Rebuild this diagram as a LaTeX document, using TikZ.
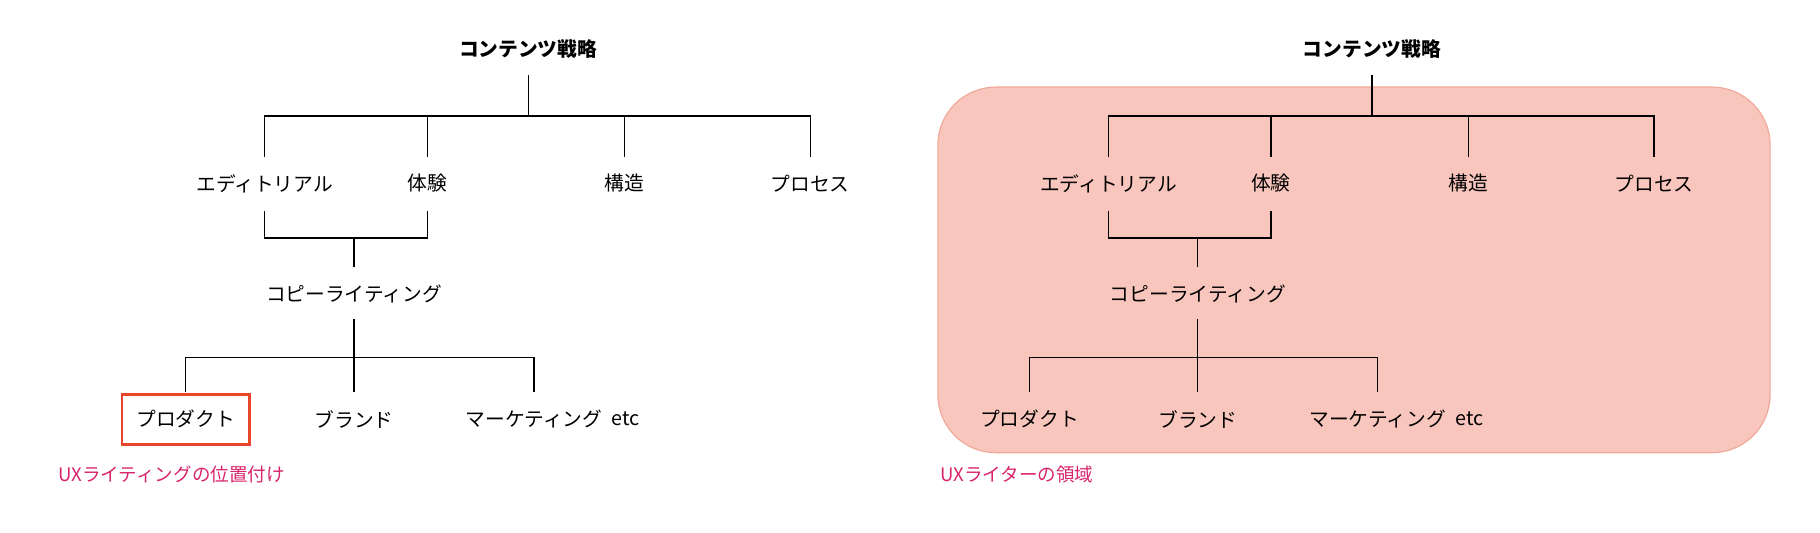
\documentclass[tikz,border=0pt]{standalone}
\usepackage{fontspec}
\setmainfont{Noto Sans CJK JP}
\begin{document}
\begin{tikzpicture}[x=1pt,y=-1pt,
  lbl/.style={font=\fontsize{17}{20}\selectfont,inner sep=1pt},
  ttl/.style={font=\fontsize{17}{20}\selectfont\bfseries,inner sep=1pt},
  note/.style={font=\fontsize{16}{19}\selectfont,text=notec,anchor=west,inner sep=0pt},
  ln/.style={line width=1pt,black}]
\definecolor{notec}{HTML}{D8246C}
\definecolor{boxc}{HTML}{E8452C}
\definecolor{areaf}{HTML}{F9C6BD}
\definecolor{aread}{HTML}{F0A898}
\useasboundingbox (0,0) rectangle (1568,459);
\draw[fill=areaf,draw=aread,line width=1pt,rounded corners=50pt] (808,75) rectangle (1525,390);
\foreach \o/\s in {0/L,727/R}{
  \begin{scope}[xshift=\o pt]
  \node[ttl] (t\s) at (455,42) {コンテンツ戦略};
  \node[lbl] (e\s) at (228,158) {エディトリアル};
  \node[lbl] (x\s) at (368,158) {体験};
  \node[lbl] (k\s) at (538,158) {構造};
  \node[lbl] (p\s) at (698,158) {プロセス};
  \node[lbl] (c\s) at (305,253) {コピーライティング};
  \node[lbl] (d\s) at (160,361) {プロダクト};
  \node[lbl] (b\s) at (305,361) {ブランド};
  \node[lbl] (m\s) at (460,361) {マーケティング};
  \node[lbl,anchor=west] (etc\s) at ([xshift=6pt]m\s.east) {etc};
  \coordinate (h1\s) at (455,100);
  \draw[ln] (455,65) -- (h1\s);
  \draw[ln] (228,135) |- (698,100) -- (698,135);
  \draw[ln] (368,100) -- (368,135);
  \draw[ln] (538,100) -- (538,135);
  \draw[ln] (228,182) |- (368,205) -- (368,182);
  \draw[ln] (305,205) -- (305,230);
  \draw[ln] (305,275) -- (305,338);
  \draw[ln] (160,338) |- (460,308) -- (460,338);
  \end{scope}}
\node[draw=boxc,line width=2pt,minimum width=110pt,minimum height=43pt] (box) at (160,361.5) {};
\node[note] (n1) at (50,409) {UXライティングの位置付け};
\node[note] (n2) at (810,409) {UXライターの領域};
\end{tikzpicture}
\end{document}
